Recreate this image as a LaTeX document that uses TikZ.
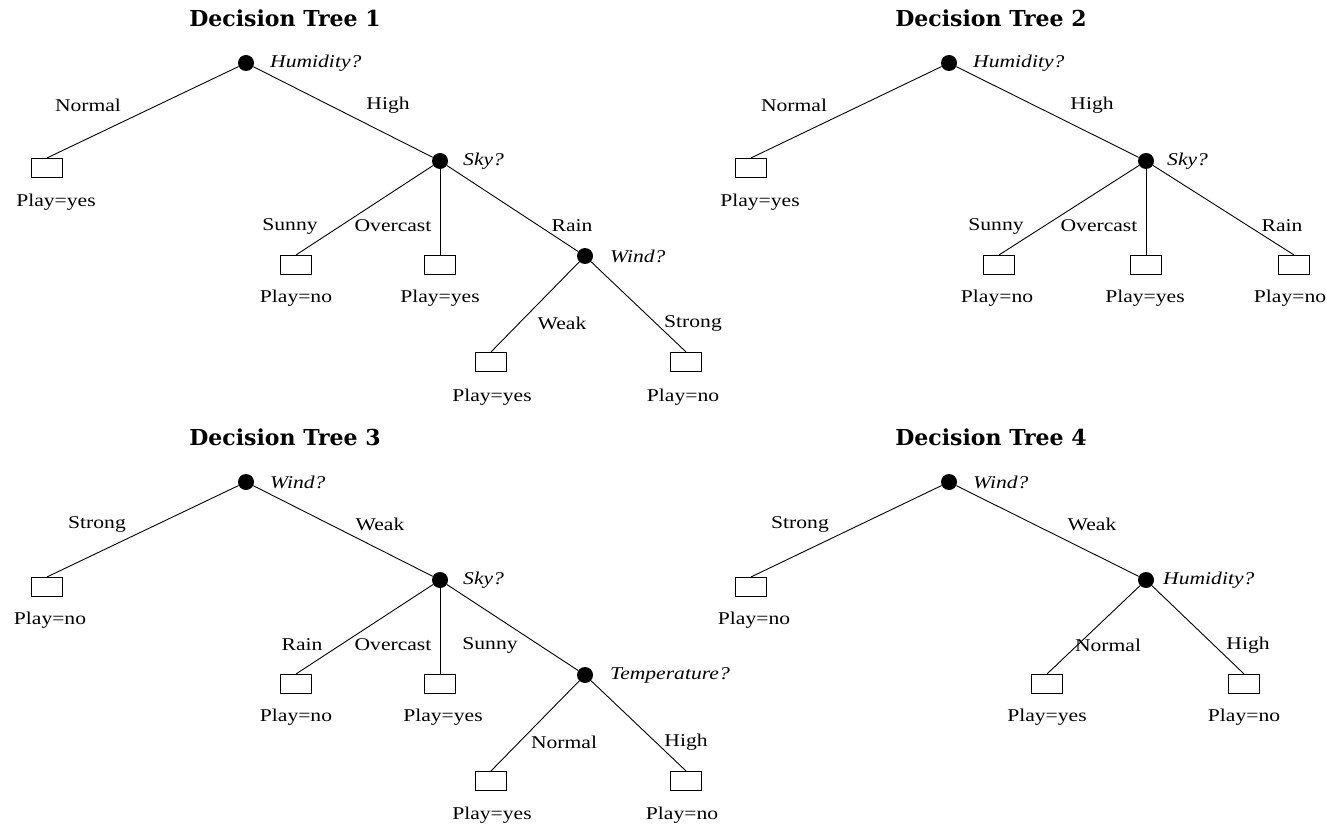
\documentclass[tikz,border=0pt]{standalone}
\usepackage{fontspec}
\setmainfont{Liberation Serif}[FakeStretch=1.2]
\newfontfamily\titlefont{DejaVu Serif}
\begin{document}
\begin{tikzpicture}[x=1pt,y=-1pt,
  every node/.style={inner sep=0pt},
  dec/.style={circle, fill=black, inner sep=0pt, minimum size=16pt},
  leaf/.style={draw, line width=1.1pt, minimum width=31pt, minimum height=19pt, inner sep=0pt},
  q/.style={font=\fontsize{18}{20}\selectfont\itshape, anchor=west},
  ttl/.style={font=\titlefont\bfseries\fontsize{22}{24}\selectfont},
  edge/.style={line width=0.9pt},
  font=\fontsize{18}{20}\selectfont]
\useasboundingbox (0,0) rectangle (1327,826);
\fill[white] (0,0) rectangle (1327,826);

% ---------------- Tree 1 ----------------
\node[ttl] (t1) at (285,18) {Decision Tree 1};
\node[dec] (h1) at (246,63) {};
\node[q] (h1q) at (270,63) {Humidity?};
\node[leaf] (a1) at (47,168) {};
\node (a1t) at (56,202) {Play=yes};
\node[dec] (s1) at (440,161) {};
\node[q] (s1q) at (463,161) {Sky?};
\node[leaf] (b1) at (296,265) {};
\node (b1t) at (296,298) {Play=no};
\node[leaf] (c1) at (440,265) {};
\node (c1t) at (440,298) {Play=yes};
\node[dec] (w1) at (585,256) {};
\node[q] (w1q) at (610,256) {Wind?};
\node[leaf] (d1) at (491,362) {};
\node (d1t) at (492,397) {Play=yes};
\node[leaf] (e1) at (686,362) {};
\node (e1t) at (683,397) {Play=no};
\draw[edge] (h1) -- (a1.north);
\draw[edge] (h1) -- (s1);
\draw[edge] (s1) -- (b1.north);
\draw[edge] (s1) -- (c1.north);
\draw[edge] (s1) -- (w1);
\draw[edge] (w1) -- (d1.north);
\draw[edge] (w1) -- (e1.north);
\node (l1a) at (88,105) {Normal};
\node (l1b) at (388,105) {High};
\node (l1c) at (290,226) {Sunny};
\node (l1d) at (393,226) {Overcast};
\node (l1e) at (572,226) {Rain};
\node (l1f) at (562,323) {Weak};
\node (l1g) at (693,323) {Strong};

% ---------------- Tree 2 ----------------
\node[ttl] (t2) at (991,18) {Decision Tree 2};
\node[dec] (h2) at (949,63) {};
\node[q] (h2q) at (973,63) {Humidity?};
\node[leaf] (a2) at (751,168) {};
\node (a2t) at (760,202) {Play=yes};
\node[dec] (s2) at (1146,161) {};
\node[q] (s2q) at (1167,161) {Sky?};
\node[leaf] (b2) at (999,265) {};
\node (b2t) at (997,298) {Play=no};
\node[leaf] (c2) at (1146,265) {};
\node (c2t) at (1145,298) {Play=yes};
\node[leaf] (d2) at (1294,265) {};
\node (d2t) at (1290,298) {Play=no};
\draw[edge] (h2) -- (a2.north);
\draw[edge] (h2) -- (s2);
\draw[edge] (s2) -- (b2.north);
\draw[edge] (s2) -- (c2.north);
\draw[edge] (s2) -- (d2.north);
\node (l2a) at (794,105) {Normal};
\node (l2b) at (1092,105) {High};
\node (l2c) at (996,226) {Sunny};
\node (l2d) at (1099,226) {Overcast};
\node (l2e) at (1282,226) {Rain};

% ---------------- Tree 3 ----------------
\node[ttl] (t3) at (285,437) {Decision Tree 3};
\node[dec] (w3) at (246,482) {};
\node[q] (w3q) at (270,482) {Wind?};
\node[leaf] (a3) at (47,587) {};
\node (a3t) at (50,620) {Play=no};
\node[dec] (s3) at (440,580) {};
\node[q] (s3q) at (463,580) {Sky?};
\node[leaf] (b3) at (296,684) {};
\node (b3t) at (296,717) {Play=no};
\node[leaf] (c3) at (440,684) {};
\node (c3t) at (443,717) {Play=yes};
\node[dec] (m3) at (585,675) {};
\node[q] (m3q) at (610,675) {Temperature?};
\node[leaf] (d3) at (491,781) {};
\node (d3t) at (492,815) {Play=yes};
\node[leaf] (e3) at (686,781) {};
\node (e3t) at (682,815) {Play=no};
\draw[edge] (w3) -- (a3.north);
\draw[edge] (w3) -- (s3);
\draw[edge] (s3) -- (b3.north);
\draw[edge] (s3) -- (c3.north);
\draw[edge] (s3) -- (m3);
\draw[edge] (m3) -- (d3.north);
\draw[edge] (m3) -- (e3.north);
\node (l3a) at (97,524) {Strong};
\node (l3b) at (380,524) {Weak};
\node (l3c) at (302,645) {Rain};
\node (l3d) at (393,645) {Overcast};
\node (l3e) at (490,645) {Sunny};
\node (l3f) at (564,742) {Normal};
\node (l3g) at (686,742) {High};

% ---------------- Tree 4 ----------------
\node[ttl] (t4) at (991,437) {Decision Tree 4};
\node[dec] (w4) at (949,482) {};
\node[q] (w4q) at (973,482) {Wind?};
\node[leaf] (a4) at (751,587) {};
\node (a4t) at (754,620) {Play=no};
\node[dec] (h4) at (1146,580) {};
\node[q] (h4q) at (1163,580) {Humidity?};
\node[leaf] (b4) at (1047,684) {};
\node (b4t) at (1047,717) {Play=yes};
\node[leaf] (c4) at (1244,684) {};
\node (c4t) at (1244,717) {Play=no};
\draw[edge] (w4) -- (a4.north);
\draw[edge] (w4) -- (h4);
\draw[edge] (h4) -- (b4.north);
\draw[edge] (h4) -- (c4.north);
\node (l4a) at (800,524) {Strong};
\node (l4b) at (1092,524) {Weak};
\node (l4c) at (1108,645) {Normal};
\node (l4d) at (1248,645) {High};
\end{tikzpicture}
\end{document}
